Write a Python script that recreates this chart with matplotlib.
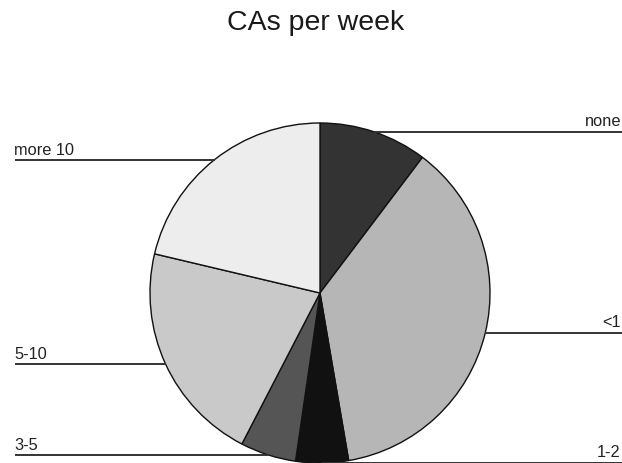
import numpy as np
import matplotlib.pyplot as plt

# CAs per week - share of respondents (percent)
labels = ["none", "<1", "1-2", "3-5", "5-10", "more 10"]
shares = [10.3, 37.0, 5.0, 5.3, 21.1, 21.3]
colors = ["#333333", "#b6b6b6", "#111111", "#555555", "#c9c9c9", "#ededed"]
sides = ["right", "right", "right", "left", "left", "left"]

plt.rcParams['font.family'] = ['Liberation Sans', 'DejaVu Sans']

W, H = 622, 464
fig = plt.figure(figsize=(W / 100, H / 100), dpi=100)
ax = fig.add_axes([0, 0, 1, 1])

cx, cy, r = 320, 170, 170
wedges, _ = ax.pie(shares, colors=colors, startangle=90, counterclock=False,
                   center=(cx, cy), radius=r,
                   wedgeprops=dict(edgecolor="#111111", linewidth=1.0))

ax.set_xlim(0, W)
ax.set_ylim(0, H)
ax.set_aspect('equal')
ax.axis('off')

# leader lines at the height of each wedge's mid angle, out to the page edge
for w, lab, side in zip(wedges, labels, sides):
    mid = np.deg2rad((w.theta1 + w.theta2) / 2)
    ly = cy + r * np.sin(mid)
    dx = np.sqrt(max(r ** 2 - (ly - cy) ** 2, 0))
    if side == "left":
        x0, x1 = 15, cx - dx
        ax.text(14, ly + 6, lab, ha="left", va="baseline", fontsize=11.8, color="#222222")
    else:
        x0, x1 = cx + dx, W
        ax.text(W - 1, ly + 7, lab, ha="right", va="baseline", fontsize=11.8, color="#222222")
    ax.plot([x0, x1], [ly, ly], color="#333333", linewidth=1.4, solid_capstyle="butt")

ax.text(cx - 4, H - 30, "CAs per week", ha="center", va="baseline", fontsize=20.5, color="#1a1a1a")

fig.savefig("out.png", dpi=100)
